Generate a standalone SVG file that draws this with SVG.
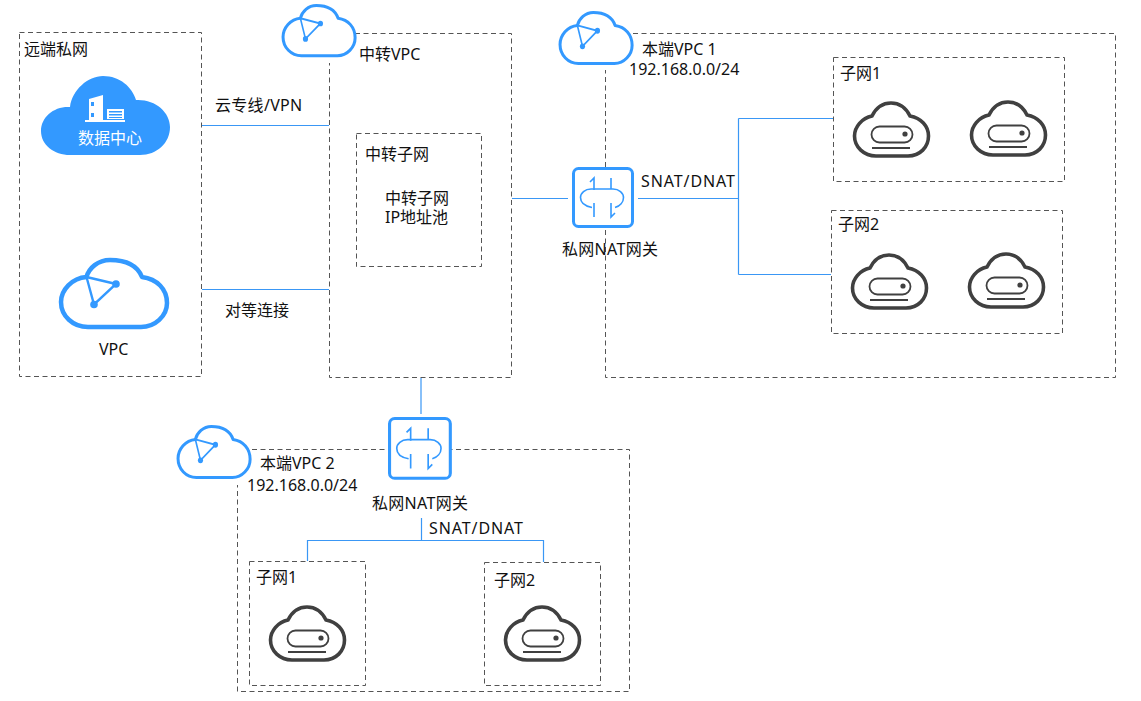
<svg xmlns="http://www.w3.org/2000/svg" xmlns:xlink="http://www.w3.org/1999/xlink" width="1141" height="701" viewBox="0 0 1141 701">
<style>
text{font-family:"Noto Sans","Noto Sans CJK SC",sans-serif;font-size:16px;fill:#111}
.box{fill:none;stroke:#555;stroke-width:1;stroke-dasharray:5 3.5}
.conn{fill:none;stroke:#3a97f5;stroke-width:1.2}
.vpc{fill:#fff;stroke:#3399ff;stroke-linejoin:round}
.vpcin{fill:none;stroke:#3399ff;stroke-width:2.400}
.srv{fill:none;stroke:#404040}
.nat{fill:none;stroke:#3399ff;stroke-width:1.6}
.wide{letter-spacing:.9px}
.gwt{letter-spacing:.3px}
</style>
<defs>
<g id="cloud">
<path class="vpc" vector-effect="non-scaling-stroke" d="M28.500 19C14 20 3 32 3 44C3 58 15 69 30 69L83 69C97 69 109 58 109 45C109 31 99 21 84 19C80 9 70 2 52 2C40 2 31 10 28.500 19Z"/>
<path class="vpcin" d="M28.500 19L58 26L36 46.500Z"/>
<circle cx="58" cy="26" r="3.800" fill="#3399ff"/>
<circle cx="36" cy="46.500" r="3.800" fill="#3399ff"/>
</g>
<g id="server">
<path class="srv" stroke-width="3.600" d="M19 15C9 17 1.500 26 1.500 35C1.500 46 11 55 23 55L55 55C67 55 75.500 46 75.500 35C75.500 25 68 17 57 15C53 7 47 2 38 2C29 2 23 7 19 15Z"/>
<rect class="srv" stroke-width="1.800" x="18.500" y="25.500" width="41" height="16" rx="8"/>
<circle cx="52" cy="33" r="2.600" fill="#404040"/>
<path class="srv" stroke-width="2" d="M19 47H57"/>
</g>
<g id="gw">
<rect x="1.500" y="1.500" width="59" height="58" rx="5" fill="#fff" stroke="#3399ff" stroke-width="3"/>
<path class="nat" d="M20 40.500C12 39 8.500 35 8.500 30.500C8.500 26 13 22 19 22H41C47 22 51.500 26 51.500 30.500C51.500 35 48 39 43 40.500"/>
<path class="nat" d="M18 15L22 11V23M39 11V22M22 36V50M39 36V50L43 46"/>
</g>
</defs>

<g id="connectors">
<path class="conn" d="M202 125.500H329M202 289.500H329M512 198.500H568M638 198.500H738.500M738.500 118.500V274.500M738.500 118.500H833M738.500 274.500H831M421 378V414M421.500 518V540.500M307.500 561V540.500H543.500V562"/>
</g>

<g id="remote-network">
<rect class="box" x="19.500" y="32.500" width="182" height="344"/>
<text x="24" y="55">远端私网</text>
</g>
<g id="datacenter">
<path fill="#3399ff" d="M70 107C72 90 88 76 103 76C120 76 132 87 136 100C155 99 170 112 170 127C170 143 157 155 140 155H70C54 155 41 145 41 131C41 117 54 106 70 107Z"/>
<path fill="#fff" d="M89 99L103 95V120H89ZM107 109H124V119H107ZM85 120H125V122H85Z"/>
<path fill="#3399ff" d="M91 102h3v4h-3zM91 113h3v4h-3zM109 111h13v1.500h-13zM109 114h13v1.500h-13zM109 117h13v1h-13z"/>
<text x="78" y="144" style="fill:#fff">数据中心</text>
</g>
<g id="vpc">
<use href="#cloud" stroke-width="4.500" transform="translate(58 258)"/>
<text x="99" y="355">VPC</text>
</g>
<text x="215" y="111" class="gwt">云专线/VPN</text>
<text x="225" y="316">对等连接</text>

<g id="transit-vpc">
<path class="box" d="M355 33.500H511.500V377.500H329.500V63"/>
<use href="#cloud" stroke-width="3" transform="translate(281 4) scale(.68 .75)"/>
<text x="359" y="60">中转VPC</text>
</g>
<g id="transit-subnet">
<rect class="box" x="356.500" y="133.500" width="125" height="133"/>
<text x="365" y="160">中转子网</text>
<text x="385" y="204">中转子网</text>
<text x="385" y="223">IP地址池</text>
</g>

<g id="local-vpc-1">
<path class="box" d="M633 33.500H1115.500V377.500H605.500V70"/>
<use href="#cloud" stroke-width="3" transform="translate(558 11) scale(.68 .76)"/>
<text x="642" y="55">本端VPC 1</text>
<text x="629" y="75">192.168.0.0/24</text>
</g>
<g id="gateway-1">
<use href="#gw" transform="translate(572 167)"/>
<text class="gwt" x="562" y="255">私网NAT网关</text>
</g>
<text class="wide" x="641" y="187">SNAT/DNAT</text>
<g id="subnet-1a">
<rect class="box" x="833.500" y="57.500" width="231" height="124"/>
<text x="840" y="79">子网1</text>
<use href="#server" transform="translate(853 101)"/>
<use href="#server" transform="translate(970 100)"/>
</g>
<g id="subnet-1b">
<rect class="box" x="831.500" y="210.500" width="231" height="123"/>
<text x="838" y="230">子网2</text>
<use href="#server" transform="translate(851 253)"/>
<use href="#server" transform="translate(968 252)"/>
</g>

<g id="local-vpc-2">
<path class="box" d="M252 449.500H629.500V691.500H237.500V485"/>
<use href="#cloud" stroke-width="3" transform="translate(176 425) scale(.68 .76)"/>
<text x="260" y="469">本端VPC 2</text>
<text x="247" y="491">192.168.0.0/24</text>
</g>
<g id="gateway-2">
<use href="#gw" transform="translate(388 417) scale(1.03)"/>
<text class="gwt" x="372" y="509">私网NAT网关</text>
</g>
<text class="wide" x="429" y="534">SNAT/DNAT</text>
<g id="subnet-2a">
<rect class="box" x="249.500" y="561.500" width="116" height="124"/>
<text x="256" y="583">子网1</text>
<use href="#server" transform="translate(269 605)"/>
</g>
<g id="subnet-2b">
<rect class="box" x="484.500" y="562.500" width="116" height="123"/>
<text x="494" y="586">子网2</text>
<use href="#server" transform="translate(504 605)"/>
</g>
</svg>
